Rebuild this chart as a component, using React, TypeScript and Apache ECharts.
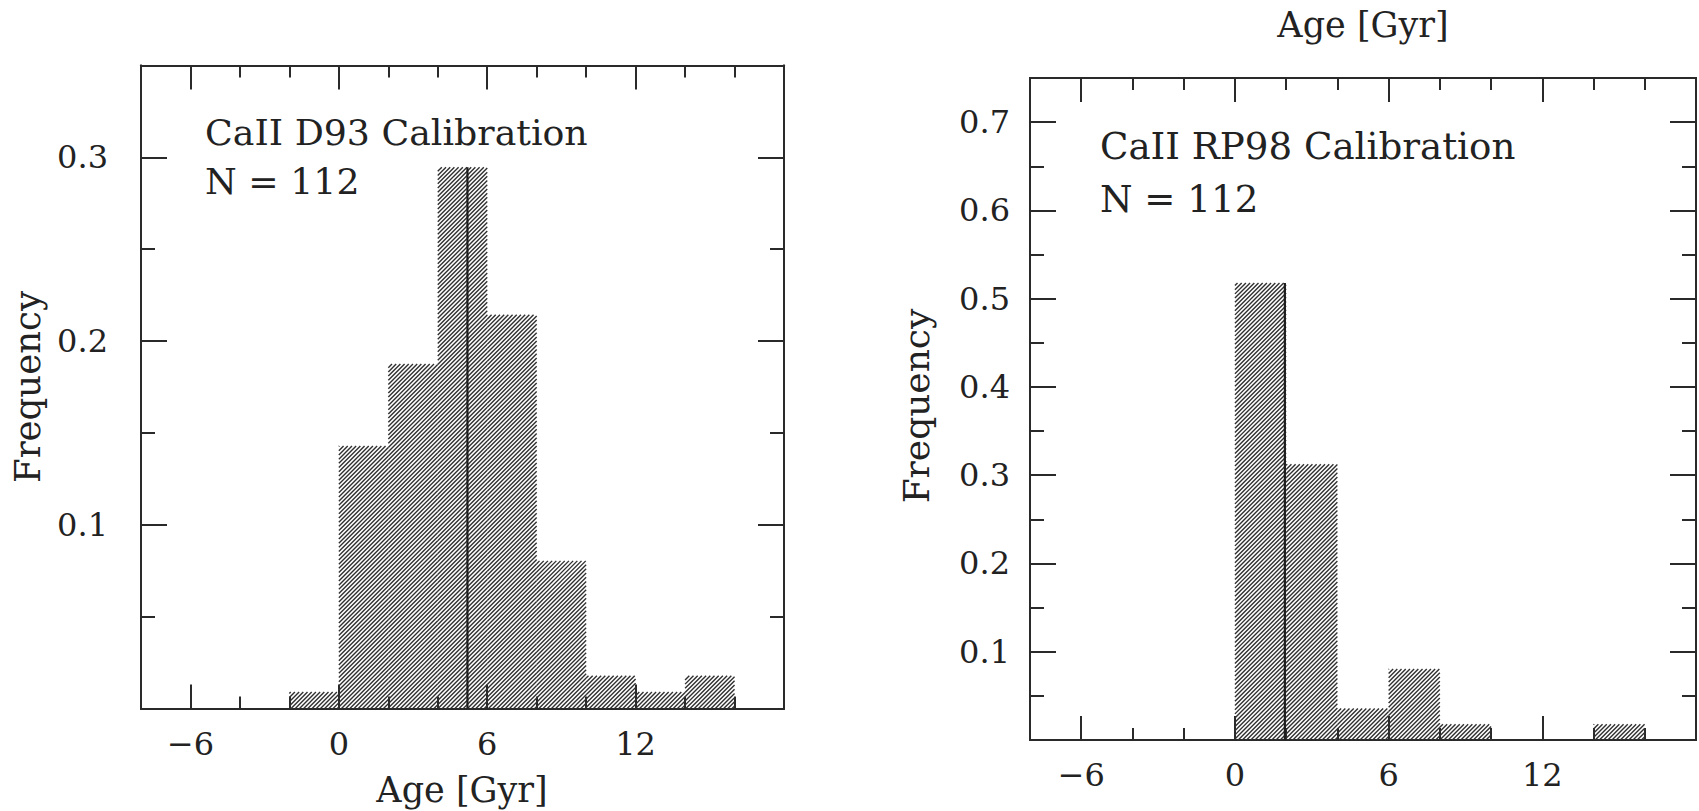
import React, { useEffect, useRef } from 'react';
import * as echarts from 'echarts';

// ---------- data ----------
const sampleSize = 112;
const binEdges = [-2, 0, 2, 4, 6, 8, 10, 12, 14, 16];
const d93Counts = [1, 16, 21, 33, 24, 9, 2, 1, 2];
const rp98Counts = [0, 58, 35, 4, 9, 2, 0, 0, 2];
const d93Median = 5.2;
const rp98Median = 1.95;

const xMajorTicks = [-6, 0, 6, 12];
const xMinorTicks = [-4, -2, 2, 4, 8, 10, 14, 16];
const d93YMajor = [0.1, 0.2, 0.3];
const d93YMinor = [0.05, 0.15, 0.25];
const rp98YMajor = [0.1, 0.2, 0.3, 0.4, 0.5, 0.6, 0.7];
const rp98YMinor = [0.05, 0.15, 0.25, 0.35, 0.45, 0.55, 0.65];

const d93Label = 'CaII D93 Calibration';
const rp98Label = 'CaII RP98 Calibration';
const nLabel = 'N = 112';
const xName = 'Age [Gyr]';
const yName = 'Frequency';

// ---------- style ----------
const FONT = 'DejaVu Serif';
const INK = '#222222';
const AXIS = '#2a2a2a';
const HATCH_STEP = 4.2;

function toBins(counts: number[]) {
  return counts.map((c, i) => [binEdges[i], binEdges[i + 1], c / sampleSize]);
}

function medianTop(counts: number[], med: number) {
  for (let i = 0; i < counts.length; i++) {
    if (med >= binEdges[i] && med <= binEdges[i + 1]) return counts[i] / sampleSize;
  }
  return 0;
}

function hatchRenderItem(params: any, api: any) {
  const x0 = api.value(0);
  const x1 = api.value(1);
  const h = api.value(2);
  if (!h) return null;
  const pTop = api.coord([x0, h]);
  const pBot = api.coord([x1, 0]);
  const xL = pTop[0], yT = pTop[1], xR = pBot[0], yB = pBot[1];
  const children: any[] = [];
  const kStart = Math.ceil((xL + yT) / HATCH_STEP);
  const kEnd = Math.floor((xR + yB) / HATCH_STEP);
  for (let k = kStart; k <= kEnd; k++) {
    const c = k * HATCH_STEP;
    const xa = Math.max(xL, c - yB);
    const xb = Math.min(xR, c - yT);
    if (xb <= xa) continue;
    children.push({
      type: 'line',
      shape: { x1: xa, y1: c - xa, x2: xb, y2: c - xb },
      style: { stroke: '#303030', lineWidth: 1.4 },
      silent: true,
    });
  }
  return { type: 'group', children };
}

const fmtX = (v: number) => (v < 0 ? '\u2212' + Math.abs(v) : String(v));
const fmtY = (v: number) => v.toFixed(1);

function makeX(grid: number, position: string, ticks: number[], len: number, labels: boolean) {
  return {
    type: 'value',
    gridIndex: grid,
    position,
    min: -8,
    max: 18,
    axisLine: { show: true, onZero: false, lineStyle: { color: AXIS, width: 2 } },
    axisTick: { show: true, inside: true, length: len, customValues: ticks, lineStyle: { color: AXIS, width: 2 } },
    axisLabel: labels
      ? { show: true, customValues: xMajorTicks, formatter: fmtX, margin: 19, fontFamily: FONT, fontSize: 32, color: INK }
      : { show: false },
    splitLine: { show: false },
  };
}

function makeY(
  grid: number,
  position: string,
  max: number,
  ticks: number[],
  len: number,
  labels: number[] | null,
  margin = 20
) {
  return {
    type: 'value',
    gridIndex: grid,
    position,
    min: 0,
    max,
    axisLine: { show: true, onZero: false, lineStyle: { color: AXIS, width: 2 } },
    axisTick: { show: true, inside: true, length: len, customValues: ticks, lineStyle: { color: AXIS, width: 2 } },
    axisLabel: labels
      ? { show: true, customValues: labels, formatter: fmtY, margin, fontFamily: FONT, fontSize: 32, color: INK, padding: [8, 0, 0, 0] }
      : { show: false },
    splitLine: { show: false },
  };
}

function txt(text: string, x: number, y: number, size: number, align: string, rotation = 0) {
  return {
    type: 'text',
    x,
    y,
    rotation,
    silent: true,
    style: {
      text,
      x: 0,
      y: 0,
      fill: INK,
      fontFamily: FONT,
      fontSize: size,
      align,
      verticalAlign: 'middle',
      textAlign: align,
      textVerticalAlign: 'middle',
    },
  };
}

export default function App() {
  const ref = useRef<HTMLDivElement>(null);

  useEffect(() => {
    if (!ref.current) return;
    const chart = echarts.init(ref.current, null, { renderer: 'svg' });

    const option: any = {
      animation: false,
      backgroundColor: '#ffffff',
      grid: [
        { left: 141, top: 65.5, width: 643, height: 643, containLabel: false },
        { left: 1030, top: 78, width: 666, height: 662, containLabel: false },
      ],
      xAxis: [
        makeX(0, 'bottom', xMajorTicks, 24, true),
        makeX(0, 'bottom', xMinorTicks, 12, false),
        makeX(0, 'top', xMajorTicks, 24, false),
        makeX(0, 'top', xMinorTicks, 12, false),
        makeX(1, 'bottom', xMajorTicks, 24, true),
        makeX(1, 'bottom', xMinorTicks, 12, false),
        makeX(1, 'top', xMajorTicks, 24, false),
        makeX(1, 'top', xMinorTicks, 12, false),
      ],
      yAxis: [
        makeY(0, 'left', 0.35, d93YMajor, 26, d93YMajor, 33),
        makeY(0, 'left', 0.35, d93YMinor, 14, null),
        makeY(0, 'right', 0.35, d93YMajor, 26, null),
        makeY(0, 'right', 0.35, d93YMinor, 14, null),
        makeY(1, 'left', 0.75, rp98YMajor, 26, rp98YMajor, 20),
        makeY(1, 'left', 0.75, rp98YMinor, 14, null),
        makeY(1, 'right', 0.75, rp98YMajor, 26, null),
        makeY(1, 'right', 0.75, rp98YMinor, 14, null),
      ],
      series: [
        {
          type: 'custom',
          xAxisIndex: 0,
          yAxisIndex: 0,
          renderItem: hatchRenderItem,
          encode: { x: [0, 1], y: 2 },
          data: toBins(d93Counts),
          silent: true,
        },
        {
          type: 'line',
          xAxisIndex: 0,
          yAxisIndex: 0,
          symbol: 'none',
          lineStyle: { color: '#1e1e1e', width: 2.2 },
          data: [[d93Median, 0], [d93Median, medianTop(d93Counts, d93Median)]],
          silent: true,
          z: 5,
        },
        {
          type: 'custom',
          xAxisIndex: 4,
          yAxisIndex: 4,
          renderItem: hatchRenderItem,
          encode: { x: [0, 1], y: 2 },
          data: toBins(rp98Counts),
          silent: true,
        },
        {
          type: 'line',
          xAxisIndex: 4,
          yAxisIndex: 4,
          symbol: 'none',
          lineStyle: { color: '#1e1e1e', width: 2.2 },
          data: [[rp98Median, 0], [rp98Median, medianTop(rp98Counts, rp98Median)]],
          silent: true,
          z: 5,
        },
      ],
      graphic: [
        txt(d93Label, 205, 132, 36.3, 'left'),
        txt(nLabel, 205, 181, 36.3, 'left'),
        txt(rp98Label, 1100, 146, 37.2, 'left'),
        txt(nLabel, 1100, 199, 37.2, 'left'),
        txt(xName, 462, 790, 35, 'center'),
        txt(xName, 1363, 25, 35, 'center'),
        txt(yName, 27, 387, 35.5, 'center', Math.PI / 2),
        txt(yName, 916, 406, 36, 'center', Math.PI / 2),
      ],
    };

    chart.setOption(option);
    return () => {
      chart.dispose();
    };
  }, []);

  return (
    <div
      ref={ref}
      style={{ position: 'absolute', left: 0, top: 0, width: 1699, height: 811, background: '#fff' }}
    />
  );
}
